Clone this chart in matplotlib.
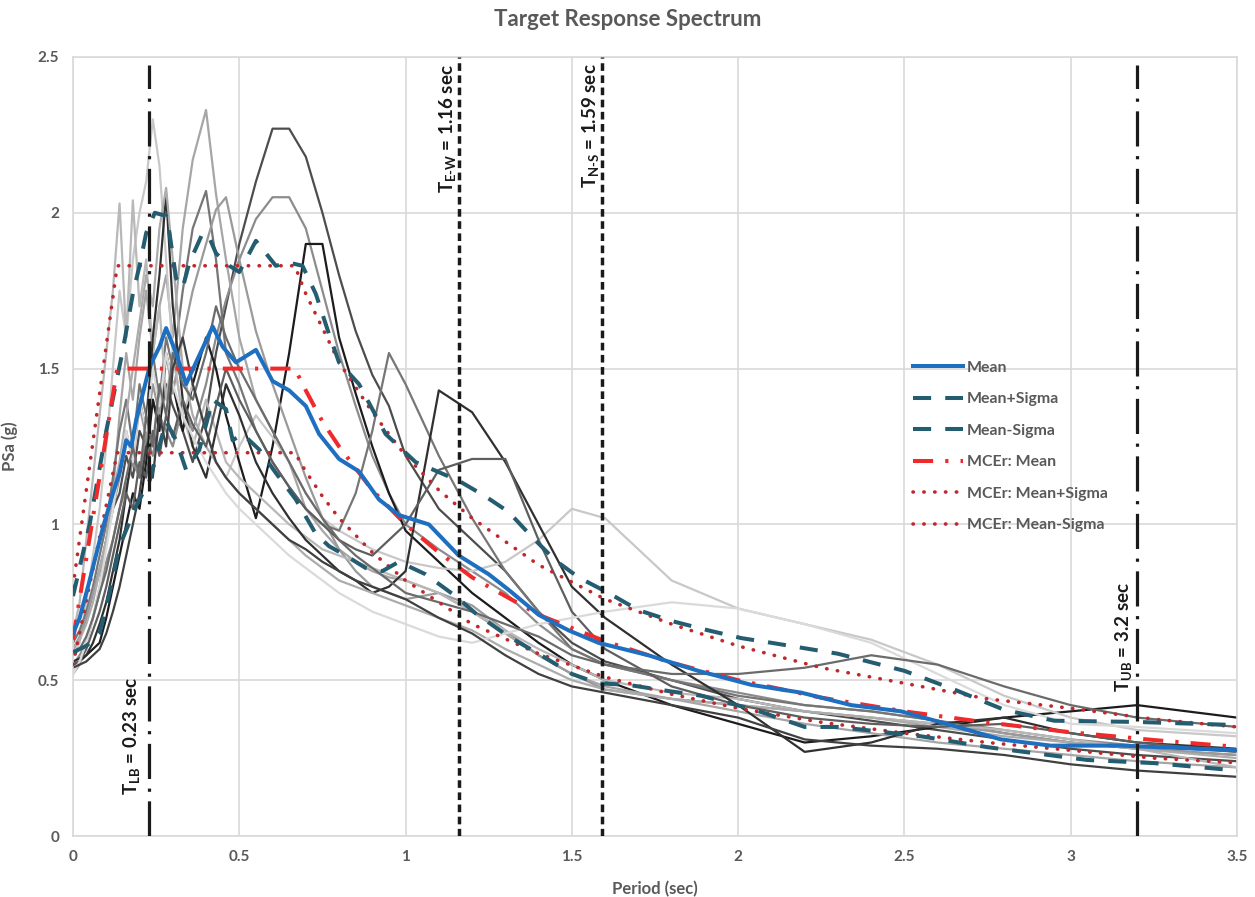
import matplotlib
matplotlib.use("Agg")
import matplotlib.pyplot as plt
from matplotlib.lines import Line2D

plt.rcParams['font.family'] = ['Lato', 'DejaVu Sans']
plt.rcParams['font.weight'] = 'bold'
plt.rcParams['mathtext.fontset'] = 'custom'
plt.rcParams['mathtext.rm'] = 'Lato:bold'
plt.rcParams['mathtext.it'] = 'Lato:bold'
plt.rcParams['mathtext.bf'] = 'Lato:bold'

# ---------------- data ----------------
# Periods (sec) at which the scaled ground-motion spectra are sampled
periods = [0.00, 0.02, 0.04, 0.06, 0.08, 0.10, 0.12, 0.14, 0.16, 0.18,
           0.20, 0.22, 0.24, 0.26, 0.28, 0.30, 0.33, 0.36, 0.40, 0.43,
           0.46, 0.50, 0.55, 0.60, 0.65, 0.70, 0.75, 0.80, 0.85, 0.90,
           0.95, 1.00, 1.10, 1.20, 1.30, 1.40, 1.50, 1.60, 1.80, 2.00,
           2.20, 2.40, 2.60, 2.80, 3.00, 3.20, 3.50]

# Pseudo-spectral accelerations (g) of the individual records
record_01 = [.60, .63, .70, .78, .85, .95, 1.05, 1.10, 1.22, 1.15, 1.30, 1.25, 1.40, 1.32, 1.45, 1.38,
             1.30, 1.20, 1.35, 1.55, 1.70, 1.90, 2.10, 2.27, 2.27, 2.18, 2.00, 1.80, 1.62, 1.48, 1.38,
             1.22, 1.05, .95, .85, .72, .62, .56, .50, .44, .40, .37, .34, .31, .28, .26, .24]
record_02 = [.55, .58, .62, .70, .78, .88, .95, 1.05, 1.12, 1.20, 1.15, 1.28, 1.22, 1.35, 1.30, 1.25,
             1.38, 1.30, 1.45, 1.60, 1.72, 1.85, 1.98, 2.05, 2.05, 1.95, 1.75, 1.55, 1.38, 1.22, 1.10,
             1.00, .92, .85, .78, .68, .60, .55, .50, .46, .42, .40, .37, .34, .31, .29, .27]
record_03 = [.55, .56, .58, .60, .62, .70, .80, .90, 1.00, 1.10, 1.05, 1.20, 1.40, 1.30, 1.55, 1.45,
             1.30, 1.45, 1.60, 1.50, 1.35, 1.20, 1.02, 1.25, 1.55, 1.90, 1.90, 1.60, 1.42, 1.25, 1.10,
             .98, .88, .78, .70, .62, .55, .50, .42, .36, .30, .32, .35, .38, .40, .42, .38]
record_04 = [.52, .55, .62, .70, .80, .95, 1.10, 1.35, 1.55, 1.40, 1.60, 1.75, 1.55, 1.70, 1.80, 1.60,
             1.95, 2.17, 2.33, 2.06, 1.85, 1.60, 1.40, 1.30, 1.20, 1.05, .98, .92, .88, .85, .83,
             .82, .78, .72, .65, .58, .52, .48, .44, .40, .36, .33, .30, .28, .26, .24, .22]
record_05 = [.58, .62, .75, .90, 1.05, 1.25, 1.50, 1.75, 1.60, 1.85, 2.00, 2.10, 2.30, 2.15, 1.85, 1.55,
             1.35, 1.45, 1.30, 1.20, 1.15, 1.25, 1.35, 1.28, 1.20, 1.10, 1.02, .98, .95, .92, .90,
             .88, .86, .85, .88, .95, 1.05, 1.02, .82, .73, .68, .63, .55, .45, .38, .34, .32]
record_06 = [.62, .66, .72, .80, .90, 1.00, 1.15, 1.30, 1.40, 1.25, 1.45, 1.35, 1.55, 1.40, 1.60, 1.50,
             1.75, 1.95, 2.07, 1.85, 1.55, 1.45, 1.30, 1.20, 1.12, 1.05, 1.00, .98, 1.10, 1.30, 1.55,
             1.45, 1.22, 1.02, .85, .72, .60, .55, .50, .45, .42, .40, .37, .33, .30, .28, .26]
record_07 = [.60, .64, .70, .78, .86, .95, 1.05, 1.15, 1.30, 1.20, 1.38, 1.28, 1.45, 1.35, 1.55, 1.42,
             1.60, 1.75, 1.90, 2.01, 2.05, 1.85, 1.62, 1.45, 1.30, 1.15, 1.02, .92, .85, .80, .78,
             .76, .78, .74, .66, .58, .52, .47, .44, .42, .40, .38, .36, .33, .30, .28, .26]
record_08 = [.65, .75, .95, 1.15, 1.35, 1.55, 1.75, 2.03, 1.60, 2.04, 1.70, 1.85, 1.55, 1.70, 1.40, 1.55,
             1.35, 1.25, 1.40, 1.30, 1.20, 1.15, 1.10, 1.05, 1.00, .96, .92, .90, .88, .86, .84,
             .82, .78, .72, .66, .60, .55, .50, .46, .44, .40, .38, .36, .34, .31, .28, .22]
record_09 = [.56, .57, .58, .62, .68, .75, .85, .95, 1.10, 1.25, 1.40, 1.30, 1.60, 1.80, 2.06, 1.70,
             1.40, 1.25, 1.15, 1.30, 1.45, 1.35, 1.20, 1.10, 1.02, .95, .90, .85, .82, .78, .80,
             .85, 1.43, 1.36, 1.20, 1.00, .80, .70, .55, .42, .27, .30, .36, .38, .33, .30, .28]
record_10 = [.60, .63, .68, .75, .85, .95, 1.10, 1.20, 1.35, 1.50, 1.65, 1.80, 1.70, 1.95, 2.08, 1.85,
             1.50, 1.35, 1.25, 1.20, 1.15, 1.10, 1.05, 1.00, .95, .90, .86, .82, .80, .78, .76,
             .74, .70, .66, .60, .55, .50, .47, .44, .42, .40, .38, .35, .32, .30, .28, .25]
record_11 = [.55, .56, .60, .66, .72, .80, .90, 1.00, 1.10, 1.05, 1.20, 1.15, 1.30, 1.22, 1.35, 1.28,
             1.40, 1.32, 1.25, 1.38, 1.50, 1.40, 1.30, 1.20, 1.12, 1.05, 1.00, .95, .92, .90, .95,
             1.00, 1.175, 1.21, 1.21, .95, .72, .60, .48, .42, .38, .36, .35, .36, .33, .30, .27]
record_12 = [.52, .56, .62, .70, .80, .92, 1.05, 1.18, 1.30, 1.20, 1.40, 1.30, 1.50, 1.38, 1.55, 1.45,
             1.35, 1.28, 1.20, 1.15, 1.10, 1.05, 1.00, .95, .90, .86, .82, .78, .75, .72, .70,
             .68, .64, .62, .65, .68, .70, .72, .75, .73, .68, .62, .52, .42, .36, .35, .33]
record_13 = [.58, .60, .64, .70, .78, .85, .95, 1.05, 1.15, 1.25, 1.15, 1.35, 1.25, 1.45, 1.35, 1.55,
             1.45, 1.40, 1.55, 1.70, 1.60, 1.50, 1.40, 1.30, 1.20, 1.10, 1.02, .95, .90, .86, .82,
             .78, .75, .72, .68, .64, .58, .55, .52, .52, .54, .58, .55, .48, .42, .38, .35]
record_14 = [.54, .55, .56, .58, .60, .65, .72, .80, .90, 1.00, 1.10, 1.25, 1.15, 1.35, 1.25, 1.50,
             1.60, 1.45, 1.30, 1.20, 1.15, 1.10, 1.05, 1.00, .95, .92, .88, .85, .82, .80, .78,
             .76, .70, .65, .58, .52, .48, .46, .42, .38, .31, .29, .28, .26, .23, .21, .19]

records = [record_01, record_02, record_03, record_04, record_05, record_06, record_07,
           record_08, record_09, record_10, record_11, record_12, record_13, record_14]

# Mean spectrum of the scaled suite
mean_T = [0.00, 0.02, 0.05, 0.09, 0.12, 0.14, 0.16, 0.175, 0.19, 0.21, 0.23, 0.26, 0.28, 0.31,
          0.34, 0.37, 0.42, 0.45, 0.49, 0.55, 0.60, 0.65, 0.70, 0.74, 0.80, 0.86, 0.92, 0.98,
          1.07, 1.16, 1.25, 1.31, 1.40, 1.49, 1.58, 1.73, 1.88, 2.04, 2.19, 2.34, 2.49, 2.64,
          2.79, 2.94, 3.15, 3.50]
mean_sa = [0.65, 0.70, 0.82, 0.99, 1.10, 1.165, 1.27, 1.25, 1.335, 1.42, 1.505, 1.57, 1.63, 1.55,
           1.45, 1.52, 1.635, 1.57, 1.52, 1.56, 1.46, 1.43, 1.38, 1.29, 1.21, 1.17, 1.08, 1.03,
           1.00, 0.90, 0.84, 0.79, 0.71, 0.66, 0.62, 0.58, 0.53, 0.485, 0.46, 0.42, 0.40, 0.356,
           0.31, 0.29, 0.29, 0.275]

# Mean + one standard deviation
plus_T = [0.00, 0.05, 0.10, 0.15, 0.18, 0.20, 0.22, 0.246, 0.28, 0.29, 0.31, 0.33, 0.35, 0.39,
          0.41, 0.43, 0.47, 0.50, 0.55, 0.58, 0.61, 0.65, 0.69, 0.73, 0.77, 0.80, 0.86, 0.94,
          1.03, 1.16, 1.24, 1.31, 1.38, 1.45, 1.52, 1.61, 1.70, 1.80, 1.91, 2.01, 2.10, 2.30,
          2.50, 2.65, 2.80, 2.95, 3.20, 3.50]
plus_sa = [0.77, 1.00, 1.30, 1.56, 1.74, 1.83, 1.935, 2.00, 1.99, 1.935, 1.79, 1.76, 1.84, 1.935,
           1.92, 1.87, 1.83, 1.81, 1.91, 1.87, 1.83, 1.84, 1.83, 1.74, 1.61, 1.52, 1.45, 1.29,
           1.20, 1.14, 1.09, 1.04, 0.96, 0.885, 0.83, 0.78, 0.725, 0.69, 0.66, 0.635, 0.62, 0.585,
           0.53, 0.47, 0.405, 0.37, 0.366, 0.356]

# Mean - one standard deviation
minus_T = [0.00, 0.04, 0.08, 0.11, 0.14, 0.19, 0.23, 0.28, 0.31, 0.34, 0.38, 0.42, 0.46, 0.48,
           0.51, 0.56, 0.61, 0.67, 0.73, 0.77, 0.82, 0.88, 0.93, 0.98, 1.06, 1.15, 1.21, 1.31,
           1.40, 1.50, 1.58, 1.67, 1.76, 1.89, 2.05, 2.20, 2.30, 2.55, 2.75, 3.05, 3.25, 3.50]
minus_sa = [0.59, 0.61, 0.65, 0.78, 0.93, 1.06, 1.14, 1.33, 1.27, 1.175, 1.24, 1.40, 1.37, 1.27,
            1.29, 1.24, 1.165, 1.08, 0.97, 0.93, 0.90, 0.86, 0.85, 0.88, 0.84, 0.77, 0.715, 0.64,
            0.585, 0.52, 0.49, 0.485, 0.47, 0.45, 0.405, 0.35, 0.35, 0.32, 0.285, 0.244, 0.234, 0.21]

# MCEr target spectrum and its +/- sigma band
mce_T = [0.00, 0.133, 0.667, 0.70, 0.75, 0.80, 0.90, 1.00, 1.10, 1.20, 1.40, 1.60, 1.80,
         2.00, 2.25, 2.50, 2.75, 3.00, 3.25, 3.50]
mce_mean = [0.63, 1.50, 1.50, 1.43, 1.33, 1.25, 1.11, 1.00, 0.91, 0.83, 0.71, 0.625, 0.556,
            0.50, 0.444, 0.40, 0.364, 0.333, 0.308, 0.286]
mce_plus = [0.80, 1.83, 1.83, 1.74, 1.63, 1.52, 1.36, 1.22, 1.11, 1.02, 0.87, 0.76, 0.68,
            0.61, 0.54, 0.49, 0.44, 0.41, 0.375, 0.35]
mce_minus = [0.55, 1.23, 1.23, 1.17, 1.09, 1.02, 0.91, 0.82, 0.75, 0.68, 0.585, 0.51, 0.455,
             0.41, 0.365, 0.33, 0.30, 0.275, 0.25, 0.235]

# Period bounds and fundamental periods (sec)
t_lb, t_ew, t_ns, t_ub = 0.23, 1.16, 1.59, 3.2

x_ticks = [0, 0.5, 1, 1.5, 2, 2.5, 3, 3.5]
x_tick_labels = ["0", "0.5", "1", "1.5", "2", "2.5", "3", "3.5"]
y_ticks = [0, 0.5, 1, 1.5, 2, 2.5]
y_tick_labels = ["0", "0.5", "1", "1.5", "2", "2.5"]

# ---------------- styling ----------------
record_shades = ['#4d4d4d', '#8c8c8c', '#1c1c1c', '#a6a6a6', '#c8c8c8', '#767676', '#9a9a9a',
                 '#b8b8b8', '#303030', '#acacac', '#5e5e5e', '#dadada', '#6b6b6b', '#404040']
text_grey = '#595959'
grid_grey = '#d9d9d9'

fig = plt.figure(figsize=(12.55, 8.97), dpi=100)
ax = fig.add_axes([73 / 1255, 61 / 897, 1164 / 1255, 779 / 897])

for rec, shade in zip(records, record_shades):
    ax.plot(periods, rec, color=shade, lw=1.6, zorder=2)

ax.plot(mce_T, mce_plus, color='#c0282d', lw=2.6, linestyle=(0, (0.1, 2.9)),
        dash_capstyle='round', zorder=4, label='MCEr: Mean+Sigma')
ax.plot(mce_T, mce_minus, color='#c0282d', lw=2.6, linestyle=(0, (0.1, 2.9)),
        dash_capstyle='round', zorder=4, label='MCEr: Mean-Sigma')
ax.plot(plus_T, plus_sa, color='#245c70', lw=2.9, linestyle=(0, (4.5, 3.5)),
        zorder=5, label='Mean+Sigma')
ax.plot(minus_T, minus_sa, color='#245c70', lw=2.9, linestyle=(0, (4.5, 3.5)),
        zorder=5, label='Mean-Sigma')
ax.plot(mce_T, mce_mean, color='#f02a2a', lw=2.9, linestyle=(0, (5, 3, 0.8, 3)),
        zorder=6, label='MCEr: Mean')
ax.plot(mean_T, mean_sa, color='#1f6fc0', lw=2.9, zorder=7, label='Mean')

# period markers
ax.plot([t_lb, t_lb], [0, 2.475], color='#1a1a1a', lw=2.3,
        linestyle=(0, (11, 3, 1, 3)), zorder=8)
ax.plot([t_ub, t_ub], [0, 2.475], color='#1a1a1a', lw=2.3,
        linestyle=(0, (11, 3, 1, 3)), zorder=8)
ax.plot([t_ew, t_ew], [0, 2.5], color='#1a1a1a', lw=2.5,
        linestyle=(0, (2.2, 1.3)), zorder=8)
ax.plot([t_ns, t_ns], [0, 2.5], color='#1a1a1a', lw=2.5,
        linestyle=(0, (2.2, 1.3)), zorder=8)

lab_kw = dict(rotation=90, ha='center', va='center', fontsize=13.5,
              color='#1a1a1a', fontweight='bold', zorder=9)
ax.text(t_lb - 0.055, 0.32, r'$\mathrm{T_{LB}}$' + f' = {t_lb} sec', **lab_kw)
ax.text(t_ew - 0.035, 2.27, r'$\mathrm{T_{E\text{-}W}}$' + f' = {t_ew} sec', **lab_kw)
ax.text(t_ns - 0.035, 2.28, r'$\mathrm{T_{N\text{-}S}}$' + f' = {t_ns} sec', **lab_kw)
ax.text(t_ub - 0.04, 0.64, r'$\mathrm{T_{UB}}$' + f' = {t_ub} sec', **lab_kw)

ax.set_xlim(0, 3.5)
ax.set_ylim(0, 2.5)
ax.set_xticks(x_ticks)
ax.set_xticklabels(x_tick_labels)
ax.set_yticks(y_ticks)
ax.set_yticklabels(y_tick_labels)
ax.tick_params(length=0, labelsize=11, labelcolor=text_grey, pad=10)
for lbl in ax.get_xticklabels() + ax.get_yticklabels():
    lbl.set_fontweight('bold')
ax.grid(True, color=grid_grey, lw=1.2, zorder=0)
ax.set_axisbelow(True)
for sp in ax.spines.values():
    sp.set_color(grid_grey)
    sp.set_linewidth(1.2)

ax.set_xlabel('Period (sec)', fontsize=12, fontweight='bold', color=text_grey, labelpad=12)
ax.set_ylabel('PSa (g)', fontsize=12, fontweight='bold', color=text_grey, labelpad=14)
fig.text(0.5, 0.978, 'Target Response Spectrum', ha='center', va='center',
         fontsize=16, fontweight='bold', color=text_grey)

handles = [
    Line2D([], [], color='#1f6fc0', lw=2.9),
    Line2D([], [], color='#245c70', lw=2.9, linestyle=(0, (4.5, 3.5))),
    Line2D([], [], color='#245c70', lw=2.9, linestyle=(0, (4.5, 3.5))),
    Line2D([], [], color='#f02a2a', lw=2.9, linestyle=(0, (5, 3, 0.8, 3))),
    Line2D([], [], color='#c0282d', lw=2.6, linestyle=(0, (0.1, 2.9)), dash_capstyle='round'),
    Line2D([], [], color='#c0282d', lw=2.6, linestyle=(0, (0.1, 2.9)), dash_capstyle='round'),
]
labels = ['Mean', 'Mean+Sigma', 'Mean-Sigma', 'MCEr: Mean', 'MCEr: Mean+Sigma', 'MCEr: Mean-Sigma']
leg = ax.legend(handles, labels, loc='upper left', bbox_to_anchor=(0.716, 0.618),
                frameon=False, fontsize=11.4, handlelength=3.2, handletextpad=0.2,
                labelspacing=1.1, borderaxespad=0)
for t in leg.get_texts():
    t.set_color(text_grey)
    t.set_fontweight('bold')

fig.savefig('out.png', dpi=100)
